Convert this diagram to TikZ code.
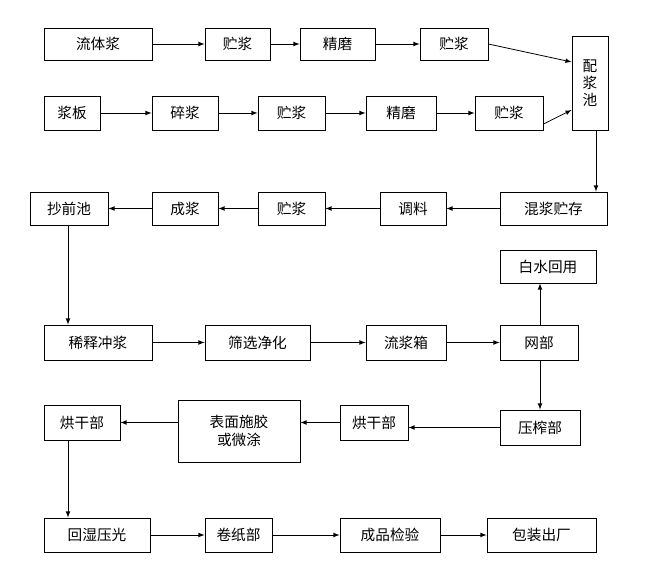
\documentclass[tikz,border=0pt]{standalone}
\usepackage{fontspec}
\setmainfont{Noto Sans CJK SC}
\begin{document}
\begin{tikzpicture}[x=0.75pt,y=-0.75pt,
 b/.style={draw,semithick,inner sep=0pt,font=\fontsize{11}{13}\selectfont,align=center},
 a/.style={->,>=latex,semithick}]
\useasboundingbox (0,0) rectangle (665,588);
\newcommand{\bx}[6]{\node[b,minimum width={(#4-#2)*0.75pt},minimum height={(#5-#3)*0.75pt}] (#1) at ({(#2+#4)/2},{(#3+#5)/2}) {#6};}
\bx{a1}{44}{28}{152}{60}{流体浆}
\bx{a2}{205}{28}{270}{60}{贮浆}
\bx{a3}{300}{28}{375}{60}{精磨}
\bx{a4}{420}{28}{488}{60}{贮浆}
\bx{b1}{44}{96}{100}{130}{浆板}
\bx{b2}{152}{96}{218}{130}{碎浆}
\bx{b3}{258}{96}{325}{130}{贮浆}
\bx{b4}{366}{96}{436}{130}{精磨}
\bx{b5}{475}{96}{543}{130}{贮浆}
\bx{p}{572}{36}{608}{130}{配\\浆\\池}
\bx{c1}{500}{192}{607}{225}{混浆贮存}
\bx{c2}{380}{192}{446}{225}{调料}
\bx{c3}{258}{192}{325}{225}{贮浆}
\bx{c4}{152}{192}{218}{225}{成浆}
\bx{c5}{30}{192}{108}{225}{抄前池}
\bx{w}{500}{250}{596}{283}{白水回用}
\bx{d1}{44}{325}{152}{360}{稀释冲浆}
\bx{d2}{205}{325}{310}{360}{筛选净化}
\bx{d3}{366}{325}{446}{360}{流浆箱}
\bx{d4}{500}{325}{578}{360}{网部}
\bx{e1}{44}{405}{120}{440}{烘干部}
\bx{e2}{178}{400}{300}{462}{表面施胶\\或微涂}
\bx{e3}{340}{405}{408}{440}{烘干部}
\bx{e4}{500}{410}{580}{445}{压榨部}
\bx{f1}{44}{518}{150}{552}{回湿压光}
\bx{f2}{205}{518}{272}{552}{卷纸部}
\bx{f3}{340}{518}{440}{552}{成品检验}
\bx{f4}{487}{518}{596}{552}{包装出厂}
\draw[a] (a1)--(a2); \draw[a] (a2)--(a3); \draw[a] (a3)--(a4);
\draw[a] (a4.east)--(p.west|-0,62);
\draw[a] (b1)--(b2); \draw[a] (b2)--(b3); \draw[a] (b3)--(b4); \draw[a] (b4)--(b5);
\draw[a] (b5.east|-0,124)--(p.west|-0,110);
\draw[a] (p.south-|596,0)--(c1.north-|596,0);
\draw[a] (c1)--(c2); \draw[a] (c2)--(c3); \draw[a] (c3)--(c4); \draw[a] (c4)--(c5);
\draw[a] (c5.south-|68,0)--(d1.north-|68,0);
\draw[a] (d1)--(d2); \draw[a] (d2)--(d3); \draw[a] (d3)--(d4);
\draw[a] (d4.north-|540,0)--(w.south-|540,0);
\draw[a] (d4.south-|540,0)--(e4.north-|540,0);
\draw[a] (e4.west)--(e3.east|-e4.west);
\draw[a] (e3)--(e2.east|-e3); \draw[a] (e2.west|-e1)--(e1);
\draw[a] (e1.south-|68,0)--(f1.north-|68,0);
\draw[a] (f1)--(f2); \draw[a] (f2)--(f3); \draw[a] (f3)--(f4);
\end{tikzpicture}
\end{document}
